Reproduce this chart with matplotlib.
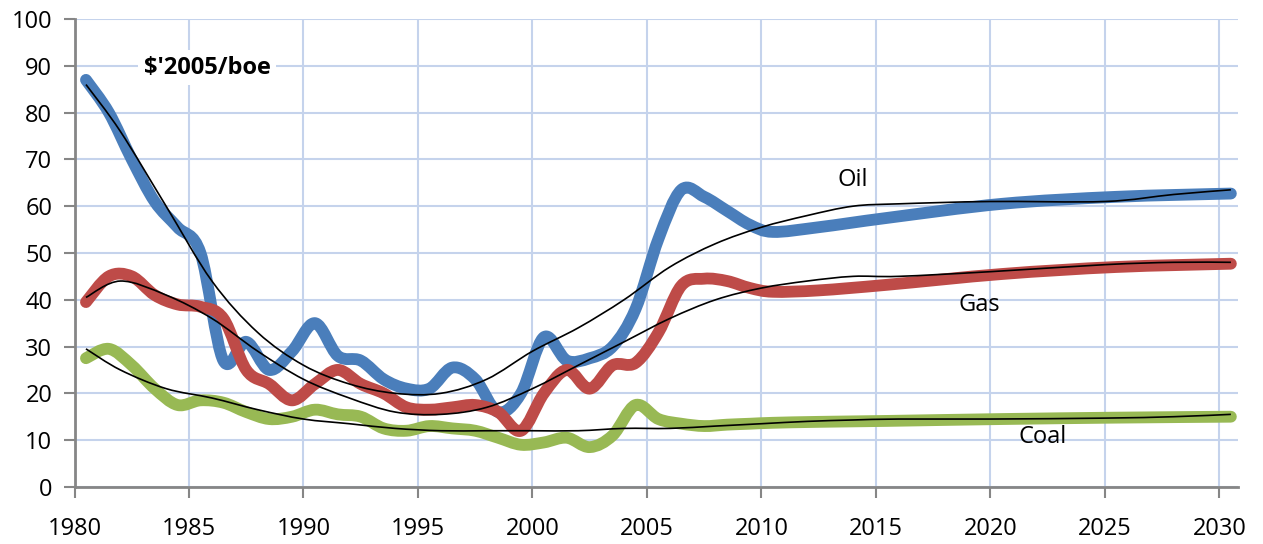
import numpy as np
import matplotlib
matplotlib.use("Agg")
import matplotlib.pyplot as plt
from matplotlib.path import Path
from matplotlib.patches import PathPatch

# Historical years (mid-year points) and projection points
years = [1980.5, 1981.5, 1982.5, 1983.5, 1984.5, 1985.5, 1986.5, 1987.5,
         1988.5, 1989.5, 1990.5, 1991.5, 1992.5, 1993.5, 1994.5, 1995.5,
         1996.5, 1997.5, 1998.5, 1999.5, 2000.5, 2001.5, 2002.5, 2003.5,
         2004.5, 2005.5, 2006.5, 2007.5, 2008.5, 2009.5, 2010.5, 2012.5,
         2015.5, 2020.5, 2025.5, 2030.5]

oil = [87, 80, 70, 61, 55.5, 50, 27, 31, 25, 29, 35, 28, 27, 23, 21, 21,
       25.5, 23, 16, 20, 32, 27, 27.5, 30, 38, 53, 63.5, 62, 59, 56, 54.5,
       55.5, 57.5, 60.5, 62, 62.7]
gas = [39.5, 45, 45, 41, 39, 38.5, 36, 25, 22, 18.5, 22, 25, 22, 20, 17,
       16.5, 17, 17.5, 16, 12, 20, 25, 21, 26, 26.5, 33, 43, 44.5, 44,
       42.5, 41.7, 42, 43.2, 45.5, 47, 47.7]
coal = [27.5, 29.5, 26, 21, 17.5, 18.5, 18, 16, 14.5, 15, 16.5, 15.5, 15,
        12.5, 12, 13, 12.5, 12, 10.5, 9, 9.5, 10.5, 8.5, 11, 17.5, 14.5,
        13.5, 13, 13.3, 13.5, 13.7, 13.9, 14.1, 14.5, 14.8, 15]

# Trend lines (thin black)
trend_years = [1980.5, 1982, 1984, 1986, 1988, 1990, 1992, 1994, 1996,
               1998, 2000, 2002, 2004, 2006, 2008, 2010, 2012, 2014, 2016,
               2020, 2025, 2028, 2030.5]
oil_trend = [86, 76, 60, 44, 33, 26, 22, 20, 20, 23, 29, 34, 40, 47, 52,
             55.5, 58, 60, 60.5, 61, 61, 62.5, 63.5]
gas_trend = [40.5, 44, 41, 36, 29, 23, 19, 16, 15.5, 17, 21, 26, 31, 36, 40,
             42.5, 44, 45, 45, 46, 47.5, 48, 48]
coal_trend = [29.5, 25, 21, 19, 16.5, 14.5, 13.5, 12.5, 12, 12, 12, 12,
              12.5, 12.5, 13, 13.5, 14, 14.3, 14.5, 14.5, 14.7, 15, 15.5]

x_ticks = [1980, 1985, 1990, 1995, 2000, 2005, 2010, 2015, 2020, 2025, 2030]
y_ticks = [0, 10, 20, 30, 40, 50, 60, 70, 80, 90, 100]


def smooth_path(x, y):
    """
    Builds a Catmull-Rom style Bezier path through the points,
    like Excel's smoothed lines.
    """
    p = np.column_stack([x, y]).astype(float)
    verts = [p[0]]
    codes = [Path.MOVETO]
    for i in range(len(p) - 1):
        p0 = p[i - 1] if i > 0 else p[i]
        p1, p2 = p[i], p[i + 1]
        p3 = p[i + 2] if i + 2 < len(p) else p[i + 1]
        c1 = p1 + (p2 - p0) / 6
        c2 = p2 - (p3 - p1) / 6
        verts += [c1, c2, p2]
        codes += [Path.CURVE4] * 3
    return Path(verts, codes)


def main():
    plt.rcParams['font.family'] = ['Open Sans', 'DejaVu Sans']
    fig = plt.figure(figsize=(12.63, 5.44), dpi=100)
    ax = fig.add_axes([0.059, 0.105, 0.921, 0.86])

    # Thick smoothed series
    for ys, col in [(oil, "#4a7ebb"), (gas, "#be4b48"), (coal, "#98b954")]:
        ax.add_patch(PathPatch(smooth_path(years, ys), fill=False,
                               edgecolor=col, lw=8.5, capstyle="round",
                               joinstyle="round", zorder=3))

    # Thin black trend lines
    for ys in [oil_trend, gas_trend, coal_trend]:
        ax.add_patch(PathPatch(smooth_path(trend_years, ys), fill=False,
                               edgecolor="black", lw=1.2, zorder=4))

    # Labels
    ax.text(2014, 65.5, "Oil", fontsize=17, ha="center", va="center")
    ax.text(2019.5, 38.8, "Gas", fontsize=17, ha="center", va="center")
    ax.text(2022.3, 10.6, "Coal", fontsize=17, ha="center", va="center")
    ax.text(1985.8, 89.6, "$'2005/boe", fontsize=17, fontweight="bold",
            ha="center", va="center", zorder=5,
            bbox=dict(facecolor="white", edgecolor="none", pad=4))

    # Axes, ticks and grid
    ax.set_xlim(1980, 2030.8)
    ax.set_ylim(0, 100)
    ax.set_xticks(x_ticks)
    ax.set_yticks(y_ticks)
    ax.tick_params(axis="both", labelsize=17, color="#868686",
                   direction="out", length=8, width=1.5)
    ax.tick_params(axis="x", pad=14)
    ax.tick_params(axis="y", pad=8)
    ax.grid(True, color="#c5d3ec", lw=1.5)
    ax.set_axisbelow(True)
    for side in ["top", "right"]:
        ax.spines[side].set_visible(False)
    for side in ["left", "bottom"]:
        ax.spines[side].set_color("#868686")
        ax.spines[side].set_linewidth(2)

    fig.savefig("out.png", dpi=100)


if __name__ == "__main__":
    main()
